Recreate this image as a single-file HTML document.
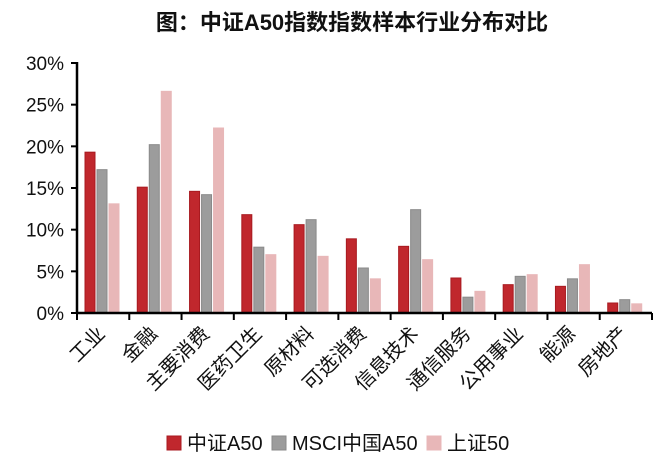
<!DOCTYPE html>
<html><head><meta charset="utf-8"><style>
body{margin:0;background:#fff;width:664px;height:466px;overflow:hidden;font-family:"Liberation Sans","Noto Sans CJK SC",sans-serif}
</style></head><body>
<svg width="664" height="466" font-family="Liberation Sans, Noto Sans CJK SC, sans-serif">
<text x="352" y="30" text-anchor="middle" font-size="22" font-weight="bold" fill="#111">图：中证A50指数指数样本行业分布对比</text>
<g id="plot"></g>
</svg>
<script>
const categories=["工业","金融","主要消费","医药卫生","原材料","可选消费","信息技术","通信服务","公用事业","能源","房地产"];
const csiA50=[19.3,15.1,14.6,11.8,10.6,8.9,8.0,4.2,3.4,3.2,1.2];
const msciA50=[17.2,20.2,14.2,7.9,11.2,5.4,12.4,1.9,4.4,4.1,1.6];
const sse50=[13.1,26.6,22.2,7.0,6.8,4.1,6.4,2.6,4.6,5.8,1.1];
const yTicks=[0,5,10,15,20,25,30];
const seriesNames=["中证A50","MSCI中国A50","上证50"];
const NS="http://www.w3.org/2000/svg";
const g=document.getElementById('plot');
const x0=77,x1=652,y0=313,yTop=63,yMax=30;
const band=(x1-x0)/categories.length;
const y=v=>y0-(v/yMax)*(y0-yTop);
const xb=i=>x0+i*band;
function el(t,a){const e=document.createElementNS(NS,t);for(const k in a)e.setAttribute(k,a[k]);g.appendChild(e);return e;}
const series=[csiA50,msciA50,sse50];
const fills=["#c0272d","#9c9c9c","#e8b7b8"];
const strokes=["#a81a20","#8a8a8a","#e8b7b8"];
series.forEach((s,si)=>s.forEach((v,i)=>{
  const r=el('rect',{x:xb(i)+8+si*12,y:y(v),width:10,height:y0-y(v),fill:fills[si],stroke:strokes[si],'stroke-width':1});
  
  
}));
const ya=el('line',{x1:x0,y1:yTop-1,x2:x0,y2:y0+1,stroke:'#000','stroke-width':2.5});


const xa=el('line',{x1:x0-1,y1:y0,x2:x1,y2:y0,stroke:'#000','stroke-width':2.5});


yTicks.forEach(t=>{
  el('line',{x1:x0-6,y1:y(t),x2:x0,y2:y(t),stroke:'#000','stroke-width':2});
  const tx=el('text',{x:64,y:y(t)+7,'text-anchor':'end','font-size':19,fill:'#111'});
  tx.textContent=t+'%';
  
  
});
for(let i=0;i<=categories.length;i++){el('line',{x1:xb(i),y1:y0,x2:xb(i),y2:y0+7,stroke:'#000','stroke-width':2});}
categories.forEach((c,i)=>{
  const cx=xb(i)+band/2+3,cy=335;
  const tx=el('text',{x:cx,y:cy,'text-anchor':'end','font-size':20,fill:'#111',transform:`rotate(-45 ${cx} ${cy})`});
  tx.textContent=c;
  
  
});
const legX=[167,272,427];
seriesNames.forEach((n,si)=>{
  const r=el('rect',{x:legX[si],y:436,width:14,height:14,fill:fills[si],stroke:strokes[si]});
  
  
  const tx=el('text',{x:legX[si]+20,y:450,'font-size':20,fill:'#111'});
  tx.textContent=n;
  
  
});
</script>
</body></html>
